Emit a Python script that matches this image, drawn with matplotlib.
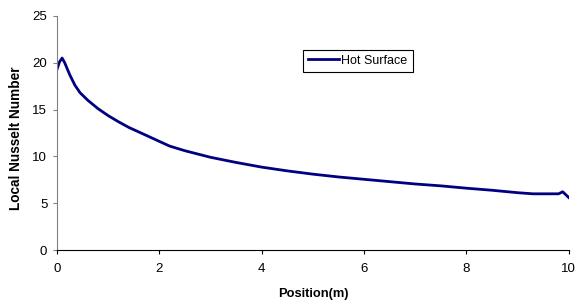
import matplotlib
matplotlib.use("Agg")
import matplotlib.pyplot as plt

position = [0.0, 0.05, 0.1, 0.15, 0.25, 0.35, 0.45, 0.6, 0.8, 1.0, 1.2, 1.4, 1.6, 1.8, 2.0,
            2.2, 2.5, 3.0, 3.5, 4.0, 4.5, 5.0, 5.5, 6.0, 6.5, 7.0, 7.5, 8.0, 8.5, 9.0,
            9.3, 9.8, 9.88, 10.0]
nusselt = [19.3, 20.1, 20.5, 20.0, 18.7, 17.6, 16.8, 16.0, 15.1, 14.35, 13.7, 13.1, 12.6, 12.1,
           11.6, 11.1, 10.6, 9.9, 9.35, 8.85, 8.45, 8.1, 7.8, 7.55, 7.3, 7.05, 6.85, 6.6,
           6.38, 6.12, 6.0, 6.0, 6.22, 5.6]

plt.rcParams['font.family'] = ['Liberation Sans', 'DejaVu Sans']

fig = plt.figure(figsize=(5.77, 3.06), dpi=100)
ax = fig.add_axes([0.0988, 0.183, 0.887, 0.765])

ax.plot(position, nusselt, color='#000080', linewidth=2.0, label='Hot Surface')

ax.set_xlim(0, 10)
ax.set_ylim(0, 25)
ax.set_xticks([0, 2, 4, 6, 8, 10])
ax.set_yticks([0, 5, 10, 15, 20, 25])
ax.tick_params(direction='out', length=3, width=0.8, labelsize=9.5)
ax.tick_params(axis='x', pad=6)
ax.tick_params(axis='y', pad=4, colors='#808080', labelcolor='black')

ax.spines['top'].set_visible(False)
ax.spines['right'].set_visible(False)
ax.spines['left'].set_color('#808080')
ax.spines['bottom'].set_color('black')

ax.set_xlabel('Position(m)', fontsize=9.3, fontweight='bold')
ax.set_ylabel('Local Nusselt Number', fontsize=9.8, fontweight='bold')
ax.xaxis.set_label_coords(0.5, -0.162)
ax.yaxis.set_label_coords(-0.067, 0.479)

leg = ax.legend(loc='upper left', bbox_to_anchor=(0.48, 0.855), borderaxespad=0,
                fancybox=False, edgecolor='black', framealpha=1, fontsize=9,
                handlelength=2.5, handletextpad=0.2, borderpad=0.4)
leg.get_frame().set_linewidth(0.8)

fig.savefig('out.png', dpi=100)
